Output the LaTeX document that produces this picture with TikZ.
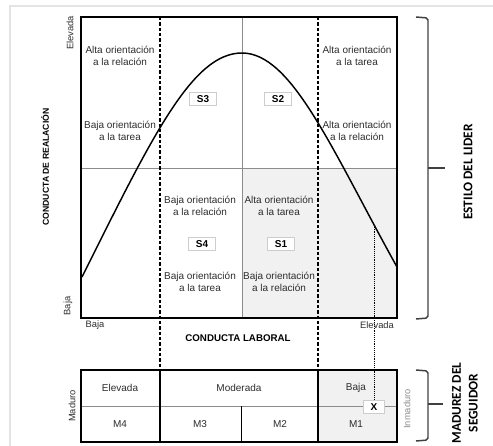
\documentclass[tikz,border=0pt]{standalone}
\usepackage{fontspec}
\setmainfont{Liberation Sans}
\newfontfamily\calib{Carlito}
\usepackage{tikz}

\definecolor{txtgray}{RGB}{45,45,45}
\definecolor{linegray}{RGB}{140,140,140}
\definecolor{shadegray}{RGB}{241,241,241}
\definecolor{framegray}{RGB}{228,228,228}
\definecolor{boxgray}{RGB}{205,205,205}

\tikzset{
  lbl/.style={font=\fontsize{7.5}{8.6}\selectfont, text=txtgray, align=center, inner sep=0.75pt},
  small/.style={font=\fontsize{7}{8}\selectfont, text=txtgray, inner sep=0.75pt},
  sbox/.style={draw=boxgray, fill=white, font=\bfseries\fontsize{7.5}{9}\selectfont, minimum width=20.5pt, minimum height=10pt, inner sep=0pt},
  title/.style={font=\calib\bfseries\fontsize{10}{12.5}\selectfont, align=center, inner sep=0pt},
  brace/.style={line width=1.1pt, draw=black!75, rounded corners=1.5pt},
}

\begin{document}
\begin{tikzpicture}[x=0.75pt,y=0.75pt,yscale=-1,xscale=1]
        \useasboundingbox (0,0) rectangle (493,446);

        %Frame
        \draw [color=framegray, line width=0.8pt] (10,446) -- (10,6) -- (493,6) ;

        %Shaded quadrant S1 and column M1
        \fill [shadegray] (242,168) rectangle (397,318) ;
        \fill [shadegray] (318,370) rectangle (397,442) ;

        %Inner grid
        \draw [color=linegray, line width=0.5pt] (81,168) -- (397,168) (242,17) -- (242,318) ;
        \draw [color=linegray, line width=0.5pt] (81,406) -- (397,406) ;
        \draw [line width=0.6pt] (241,406) -- (241,442) ;

        %Main box
        \draw [line width=1.1pt] (81,17) rectangle (397,318) ;
        %Bottom box
        \draw [line width=1.1pt] (81,370) rectangle (397,442) ;

        %Dashed separators
        \draw [line width=1.1pt, dash pattern=on 2.6pt off 1.4pt] (160,17) -- (160,370) ;
        \draw [line width=1.1pt, dash pattern=on 2.6pt off 1.4pt] (318,17) -- (318,370) ;
        \draw [line width=0.8pt] (160,370) -- (160,442) ;
        \draw [line width=0.8pt] (318,370) -- (318,442) ;

        %Curve
        \draw [line width=1.1pt] (82,277) .. controls (152,137) and (192,53) .. (242,53) .. controls (292,53) and (332,150) .. (397,267) ;

        % Text Node
        \node [lbl] (altarel) at (120,56) {Alta orientación\\a la relación};
        \node [lbl] (bajatar) at (120,131) {Baja orientación\\a la tarea};
        \node [lbl] (altatar) at (357,56) {Alta orientación\\a la tarea};
        \node [lbl] (altarel2) at (357,131) {Alta orientación\\a la relación};
        \node [lbl] (bajarel) at (200,206) {Baja orientación\\a la relación};
        \node [lbl] (altatar2) at (279,206) {Alta orientación\\a la tarea};
        \node [lbl] (bajatar2) at (200,282) {Baja orientación\\a la tarea};
        \node [lbl] (bajarel2) at (279,282) {Baja orientación\\a la relación};

        \node [sbox] (s3) at (203,99) {S3};
        \node [sbox] (s2) at (278,99) {S2};
        \node [sbox] (s4) at (202,244) {S4};
        \node [sbox] (s1) at (281,244) {S1};

        % Axis labels
        \node [small, rotate=90] (elev) at (70,33) {Elevada};
        \node [small, rotate=90] (bajav) at (68,306) {Baja};
        \node [small, font=\bfseries\fontsize{6.5}{7}\selectfont, text=black, rotate=90] (ejey) at (45,167) {CONDUCTA DE REALACIÓN};
        \node [small] (bajah) at (95,325) {Baja};
        \node [small] (elevh) at (377,325) {Elevada};
        \node [lbl, font=\bfseries\fontsize{7.3}{8}\selectfont, text=black] (ejex) at (238,338) {CONDUCTA LABORAL};

        % Maturity table
        \node [lbl] (elevada) at (120,388) {Elevada};
        \node [lbl] (moderada) at (239,388) {Moderada};
        \node [lbl] (baja) at (356,388) {Baja};
        \node [lbl] (m4) at (120,424) {M4};
        \node [lbl] (m3) at (200,424) {M3};
        \node [lbl] (m2) at (280,424) {M2};
        \node [lbl] (m1) at (356,424) {M1};
        \node [small, rotate=90] (maduro) at (72,406) {Maduro};
        \node [small, rotate=90, text=linegray] (inmaduro) at (407,409) {Inmaduro};

        % Follower point
        \coordinate (cx) at (374,225);
        \node [sbox, minimum width=16pt, minimum height=10pt] (xmark) at (374,407) {X};
        \draw [line width=0.4pt, densely dotted] (cx) -- (xmark.north) ;

        % Braces
        \draw [brace] (416,17) -- (428,18) -- (428,318) -- (416,319) ;
        \draw [brace] (428,168) -- (445,168) ;
        \draw [brace] (416,370) -- (428,371) -- (428,440) -- (416,441) ;
        \draw [brace] (428,404) -- (443,404) ;

        \node [title, rotate=90] (estilo) at (468,172) {ESTILO DEL LIDER};
        \node [title, rotate=90] (madurez) at (465,403) {MADUREZ DEL\\SEGUIDOR};

    \end{tikzpicture}
\end{document}
